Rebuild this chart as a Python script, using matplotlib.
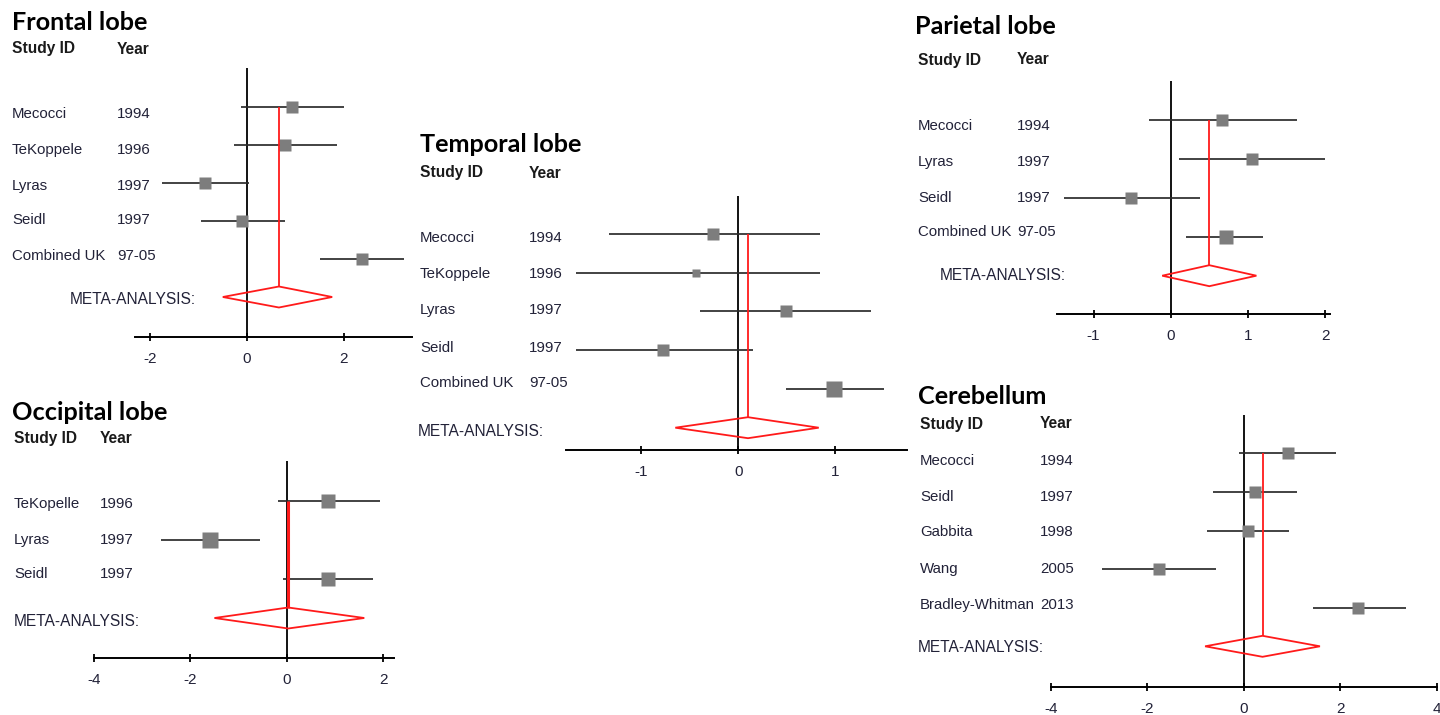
import matplotlib
matplotlib.use("Agg")
import matplotlib.pyplot as plt
from matplotlib.patches import Polygon

plt.rcParams["axes.unicode_minus"] = False

# ---------------- data ----------------
frontal_studies = ["Mecocci", "TeKoppele", "Lyras", "Seidl", "Combined UK"]
frontal_years = ["1994", "1996", "1997", "1997", "97-05"]
frontal_est = [0.93, 0.79, -0.87, -0.10, 2.38]
frontal_lo = [-0.12, -0.27, -1.76, -0.95, 1.51]
frontal_hi = [2.00, 1.86, 0.04, 0.79, 3.25]
frontal_weight = [10, 11, 10, 11, 11]
frontal_meta = (0.66, -0.50, 1.76)
frontal_ticks = [-2, 0, 2]

temporal_studies = ["Mecocci", "TeKoppele", "Lyras", "Seidl", "Combined UK"]
temporal_years = ["1994", "1996", "1997", "1997", "97-05"]
temporal_est = [-0.26, -0.44, 0.49, -0.78, 0.99]
temporal_lo = [-1.33, -1.68, -0.40, -1.68, 0.49]
temporal_hi = [0.84, 0.84, 1.37, 0.15, 1.50]
temporal_weight = [11, 8, 11, 11, 14]
temporal_meta = (0.10, -0.65, 0.83)
temporal_ticks = [-1, 0, 1]

parietal_studies = ["Mecocci", "Lyras", "Seidl", "Combined UK"]
parietal_years = ["1994", "1997", "1997", "97-05"]
parietal_est = [0.66, 1.05, -0.51, 0.71]
parietal_lo = [-0.28, 0.11, -1.38, 0.20]
parietal_hi = [1.63, 2.00, 0.38, 1.20]
parietal_weight = [11, 11, 11, 13]
parietal_meta = (0.50, -0.11, 1.11)
parietal_ticks = [-1, 0, 1, 2]

occipital_studies = ["TeKopelle", "Lyras", "Seidl"]
occipital_years = ["1996", "1997", "1997"]
occipital_est = [0.85, -1.60, 0.85]
occipital_lo = [-0.18, -2.60, -0.07]
occipital_hi = [1.94, -0.55, 1.80]
occipital_weight = [13, 14, 13]
occipital_meta = (0.03, -1.50, 1.61)
occipital_ticks = [-4, -2, 0, 2]

cerebellum_studies = ["Mecocci", "Seidl", "Gabbita", "Wang", "Bradley-Whitman"]
cerebellum_years = ["1994", "1997", "1998", "2005", "2013"]
cerebellum_est = [0.91, 0.23, 0.08, -1.75, 2.37]
cerebellum_lo = [-0.10, -0.63, -0.77, -2.94, 1.43]
cerebellum_hi = [1.91, 1.10, 0.94, -0.58, 3.37]
cerebellum_weight = [11, 11, 11, 11, 11]
cerebellum_meta = (0.39, -0.80, 1.58)
cerebellum_ticks = [-4, -2, 0, 2, 4]

# ---------------- layout (pixels) ----------------
W, H = 1440, 715
panels = [
    dict(title="Frontal lobe", studies=frontal_studies, years=frontal_years,
         est=frontal_est, lo=frontal_lo, hi=frontal_hi, weight=frontal_weight,
         meta=frontal_meta, ticks=frontal_ticks,
         box=(135, 412, 68, 337), zero_px=247, unit_px=48.4,
         row0=107, row_dy=38.0,
         title_xy=(12, 22), head_y=49, col_x=(12, 117),
         label_y=[114, 150, 186, 220, 256], meta_xy=(70, 300), red_lw=1.3),
    dict(title="Temporal lobe", studies=temporal_studies, years=temporal_years,
         est=temporal_est, lo=temporal_lo, hi=temporal_hi, weight=temporal_weight,
         meta=temporal_meta, ticks=temporal_ticks,
         box=(566, 907, 196, 450), zero_px=738.3, unit_px=96.9,
         row0=233.7, row_dy=38.8,
         title_xy=(420, 145), head_y=173, col_x=(420, 529),
         label_y=[238, 274, 310, 348, 383], meta_xy=(418, 431), red_lw=1.3),
    dict(title="Parietal lobe", studies=parietal_studies, years=parietal_years,
         est=parietal_est, lo=parietal_lo, hi=parietal_hi, weight=parietal_weight,
         meta=parietal_meta, ticks=parietal_ticks,
         box=(1057, 1330, 81, 314), zero_px=1170.7, unit_px=77.2,
         row0=119.7, row_dy=39.0,
         title_xy=(915, 27), head_y=60, col_x=(918, 1017),
         label_y=[126, 162, 198, 232], meta_xy=(940, 276), red_lw=1.3),
    dict(title="Occipital lobe", studies=occipital_studies, years=occipital_years,
         est=occipital_est, lo=occipital_lo, hi=occipital_hi, weight=occipital_weight,
         meta=occipital_meta, ticks=occipital_ticks,
         box=(94, 394, 461, 658), zero_px=286, unit_px=48.5,
         row0=501, row_dy=39.0,
         title_xy=(12, 412), head_y=439, col_x=(14, 100),
         label_y=[504, 540, 574], meta_xy=(14, 622), red_lw=2.2),
    dict(title="Cerebellum", studies=cerebellum_studies, years=cerebellum_years,
         est=cerebellum_est, lo=cerebellum_lo, hi=cerebellum_hi, weight=cerebellum_weight,
         meta=cerebellum_meta, ticks=cerebellum_ticks,
         box=(1050.7, 1436.7, 415, 686.7), zero_px=1243.7, unit_px=48.25,
         row0=453.3, row_dy=38.6,
         title_xy=(918, 397), head_y=424, col_x=(920, 1040),
         label_y=[461, 497, 532, 569, 605], meta_xy=(918, 647), red_lw=1.3),
]

TITLE_FONT = dict(family="Lato", weight="bold", size=18.2, color="black")
HEAD_FONT = dict(family="Liberation Sans", weight="bold", size=11.2, color="#1a1a1a")
LABEL_FONT = dict(family="Liberation Sans", size=10.8, color="#222238")
META_FONT = dict(family="Liberation Sans", size=11.2, color="#222238")

fig = plt.figure(figsize=(W / 100, H / 100), dpi=100, facecolor="white")


def fx(px):
    return px / W


def fy(py):
    return 1 - py / H


for p in panels:
    left, right, top, bottom = p["box"]
    ax = fig.add_axes([fx(left), fy(bottom), (right - left) / W, (bottom - top) / H])
    ax.set_facecolor("none")

    xmin = (left - p["zero_px"]) / p["unit_px"]
    xmax = (right - p["zero_px"]) / p["unit_px"]
    ax.set_xlim(xmin, xmax)
    y_top = 1 + (top - p["row0"]) / p["row_dy"]
    y_bot = 1 + (bottom - p["row0"]) / p["row_dy"]
    ax.set_ylim(y_bot, y_top)

    n = len(p["studies"])
    rows = list(range(1, n + 1))
    meta_row = n + 1
    est_m, lo_m, hi_m = p["meta"]
    half_h = 10.5 / p["row_dy"]

    # line of no effect
    ax.axvline(0, color="black", lw=1.3, zorder=1)

    # study confidence intervals and weighted point estimates
    ax.hlines(rows, p["lo"], p["hi"], color="#2b2b2b", lw=1.25, zorder=2)
    for r, e, w in zip(rows, p["est"], p["weight"]):
        ax.plot(e, r, marker="s", ms=w * 0.8, color="#7d7d7d", mec="none", zorder=3)

    # pooled estimate: vertical line and diamond
    ax.vlines(est_m, 1, meta_row - half_h, color="#ff1a1a", lw=p["red_lw"], zorder=4)
    diamond = Polygon([(lo_m, meta_row), (est_m, meta_row - half_h),
                       (hi_m, meta_row), (est_m, meta_row + half_h)],
                      closed=True, fill=False, edgecolor="#ff1a1a", lw=1.3, zorder=4)
    ax.add_patch(diamond)

    for s in ("left", "right", "top"):
        ax.spines[s].set_visible(False)
    ax.spines["bottom"].set_linewidth(1.4)
    ax.set_yticks([])
    ax.set_xticks(p["ticks"])
    ax.set_xticklabels([str(t) for t in p["ticks"]], family="Liberation Sans", color="#222238")
    ax.tick_params(axis="x", direction="inout", length=6, width=1.3, pad=8.0, labelsize=11)

    # text columns
    tx, ty = p["title_xy"]
    fig.text(fx(tx), fy(ty), p["title"], ha="left", va="center", **TITLE_FONT)
    cx_id, cx_year = p["col_x"]
    fig.text(fx(cx_id), fy(p["head_y"]), "Study ID", ha="left", va="center", **HEAD_FONT)
    fig.text(fx(cx_year), fy(p["head_y"]), "Year", ha="left", va="center", **HEAD_FONT)
    for name, yr, ly in zip(p["studies"], p["years"], p["label_y"]):
        fig.text(fx(cx_id), fy(ly), name, ha="left", va="center", **LABEL_FONT)
        fig.text(fx(cx_year), fy(ly), yr, ha="left", va="center", **LABEL_FONT)
    mx, my = p["meta_xy"]
    fig.text(fx(mx), fy(my), "META-ANALYSIS:", ha="left", va="center", **META_FONT)

fig.savefig("out.png", dpi=100, facecolor="white")
